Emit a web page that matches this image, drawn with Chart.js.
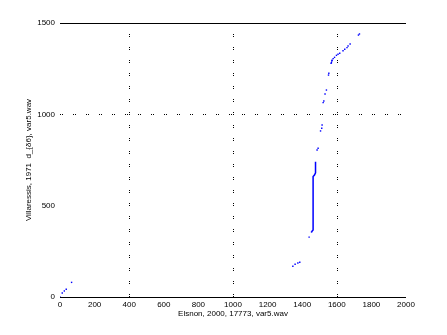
<!DOCTYPE html>
<html>
<head>
<meta charset="utf-8">
<script src="https://cdn.jsdelivr.net/npm/chart.js@4/dist/chart.umd.min.js"></script>
<style>
  html, body { margin: 0; padding: 0; background: #fff; }
  #wrap { width: 447px; height: 335px; }
</style>
</head>
<body>
<div id="wrap"><canvas id="chart"></canvas></div>
<script>
// Data
const pointX = [0, 13, 25, 36, 67,
    1346, 1359, 1375, 1386, 1440, 1454,
    1486, 1492, 1506, 1513, 1515,
    1521, 1525, 1532, 1540, 1552, 1554,
    1567, 1569, 1571, 1573, 1579, 1587, 1598, 1607, 1617, 1636, 1646, 1659, 1665, 1677, 1725, 1731];
const pointY = [0, 22, 33, 42, 80,
    168, 179, 186, 190, 328, 356,
    805, 814, 909, 924, 942,
    1064, 1073, 1111, 1133, 1215, 1225,
    1279, 1283, 1292, 1296, 1305, 1312, 1323, 1329, 1334, 1348, 1356, 1365, 1374, 1385, 1434, 1440];
// the solid vertical run
const runX = [1454, 1463, 1463, 1471, 1477, 1477];
const runY = [357, 367, 659, 668, 680, 741];

const xTicks = [0, 200, 400, 600, 800, 1000, 1200, 1400, 1600, 1800, 2000];
const yTicks = [0, 500, 1000, 1500];
const gridX = [400, 1000, 1600];
const gridY = [1000];

const xLabel = 'Elsnon, 2000, 17773, var5.wav';
const yLabel = 'Villaressis, 1971  d_{δ6}, var5.wav';

const tickFont = { family: 'Liberation Sans', size: 8 };

// dotted grid lines + top/bottom frame
const framePlugin = {
    id: 'frame',
    beforeDatasetsDraw(chart) {
        const { ctx, chartArea: a, scales } = chart;
        ctx.save();
        ctx.strokeStyle = '#000';
        ctx.lineWidth = 1;
        ctx.setLineDash([1, 1, 1, 10]);
        gridX.forEach(v => {
            const px = Math.round(scales.x.getPixelForValue(v)) + 0.5;
            ctx.beginPath();
            ctx.moveTo(px, a.bottom);
            ctx.lineTo(px, a.top);
            ctx.stroke();
        });
        gridY.forEach(v => {
            const py = Math.round(scales.y.getPixelForValue(v)) + 0.5;
            ctx.beginPath();
            ctx.moveTo(a.left, py);
            ctx.lineTo(a.right, py);
            ctx.stroke();
        });
        ctx.setLineDash([]);
        [a.top, a.bottom].forEach(y => {
            const py = Math.round(y) + 0.5;
            ctx.beginPath();
            ctx.moveTo(a.left, py);
            ctx.lineTo(a.right, py);
            ctx.stroke();
        });
        ctx.restore();
    }
};

const ctx = document.getElementById('chart').getContext('2d');
new Chart(ctx, {
    type: 'scatter',
    data: {
        datasets: [{
            data: pointX.map((x, i) => ({ x: x, y: pointY[i] })),
            backgroundColor: '#0000ff',
            borderColor: '#0000ff',
            pointRadius: 1,
            pointStyle: 'rect',
            borderWidth: 0
        }, {
            data: runX.map((x, i) => ({ x: x, y: runY[i] })),
            showLine: true,
            borderColor: '#0000ff',
            borderWidth: 1.5,
            pointRadius: 0
        }]
    },
    options: {
        responsive: true,
        maintainAspectRatio: false,
        animation: false,
        layout: { padding: { top: 23, right: 41, left: 0, bottom: 0 } },
        plugins: {
            legend: { display: false },
            tooltip: { enabled: false }
        },
        scales: {
            x: {
                type: 'linear',
                min: 0,
                max: 2000,
                afterFit: s => { s.height = 38; },
                afterBuildTicks: s => { s.ticks = xTicks.map(v => ({ value: v })); },
                ticks: { font: tickFont, color: '#000', padding: 3, maxRotation: 0, autoSkip: false, callback: v => String(v) },
                grid: { display: false, drawTicks: false },
                border: { display: false },
                title: { display: true, text: xLabel, font: tickFont, color: '#000', padding: { top: 0, bottom: 16 } }
            },
            y: {
                type: 'linear',
                min: 0,
                max: 1500,
                afterFit: s => { s.width = 60; },
                afterBuildTicks: s => { s.ticks = yTicks.map(v => ({ value: v })); },
                ticks: { font: tickFont, color: '#000', padding: 5, callback: v => String(v) },
                grid: { display: false, drawTicks: false },
                border: { display: false },
                title: { display: true, text: yLabel, font: tickFont, color: '#000', padding: { top: 24, bottom: 0 } }
            }
        }
    },
    plugins: [framePlugin]
});
</script>
</body>
</html>
